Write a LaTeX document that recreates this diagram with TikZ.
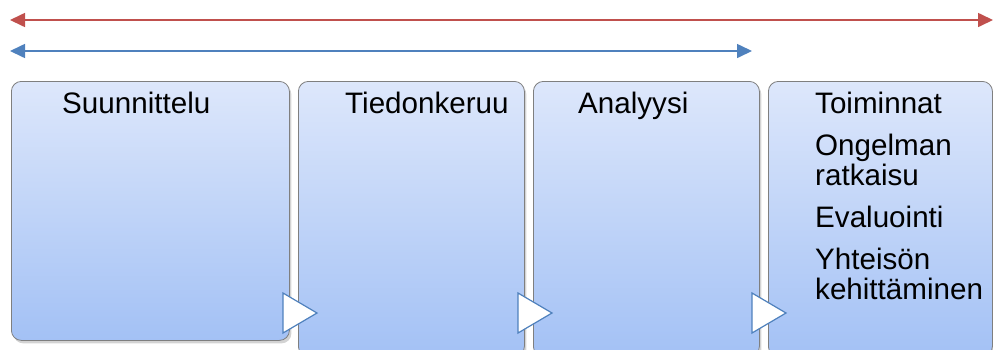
\documentclass[tikz,border=0pt]{standalone}
\usepackage{fontspec}
\setmainfont{Liberation Sans}
\usetikzlibrary{arrows.meta,shadows}
\definecolor{redline}{HTML}{C0504D}
\definecolor{blueline}{HTML}{4F81BD}
\definecolor{boxtop}{HTML}{DDE7FB}
\definecolor{boxbot}{HTML}{A3C1F5}
\definecolor{boxedge}{HTML}{7F7F7F}
\definecolor{triedge}{HTML}{4F81BD}
\tikzset{
  phase/.style={draw=boxedge, line width=0.8pt, rounded corners=10pt,
    top color=boxtop, bottom color=boxbot, anchor=north west, inner sep=0pt,
    drop shadow={opacity=0.35, shadow xshift=2pt, shadow yshift=-3pt}},
  lbl/.style={anchor=base west, inner sep=0pt, font=\fontsize{29.6}{30}\selectfont, align=left},
  tri/.style={draw=triedge, fill=white, line width=1.2pt, line join=miter},
  arr/.style={line width=1.6pt, {Triangle[length=15pt,width=14pt]}-{Triangle[length=15pt,width=14pt]}}
}
\begin{document}
\begin{tikzpicture}[x=1pt,y=-1pt]
\useasboundingbox (0,0) rectangle (993,349);
\clip (0,0) rectangle (993,349);
% arrows
\coordinate (r1) at (10,20);
\coordinate (r2) at (993,20);
\coordinate (b1) at (10,51);
\coordinate (b2) at (752,51);
\draw[arr, draw=redline, fill=redline] (r1) -- (r2);
\draw[arr, draw=blueline, fill=blueline] (b1) -- (b2);
% boxes
\node[phase, minimum width=278pt, minimum height=259pt] (p1) at (11,81) {};
\node[phase, minimum width=226pt, minimum height=275pt] (p2) at (298,81) {};
\node[phase, minimum width=226pt, minimum height=275pt] (p3) at (533,81) {};
\node[phase, minimum width=224pt, minimum height=275pt] (p4) at (768,81) {};
% triangles
\draw[tri] (283,293) -- (317,313) -- (283,333) -- cycle;
\draw[tri] (518,293) -- (552,313) -- (518,333) -- cycle;
\draw[tri] (752,293) -- (786,313) -- (752,333) -- cycle;
% labels
\node[lbl] (t1) at (62,113) {Suunnittelu};
\node[lbl] (t2) at (345,113) {Tiedonkeruu};
\node[lbl] (t3) at (578,113) {Analyysi};
\node[lbl] (t4) at (815,113) {Toiminnat};
\node[lbl] (t5) at (815,185) {Ongelman\\ratkaisu};
\node[lbl] (t6) at (815,227) {Evaluointi};
\node[lbl] (t7) at (815,299) {Yhteisön\\kehittäminen};
\end{tikzpicture}
\end{document}
